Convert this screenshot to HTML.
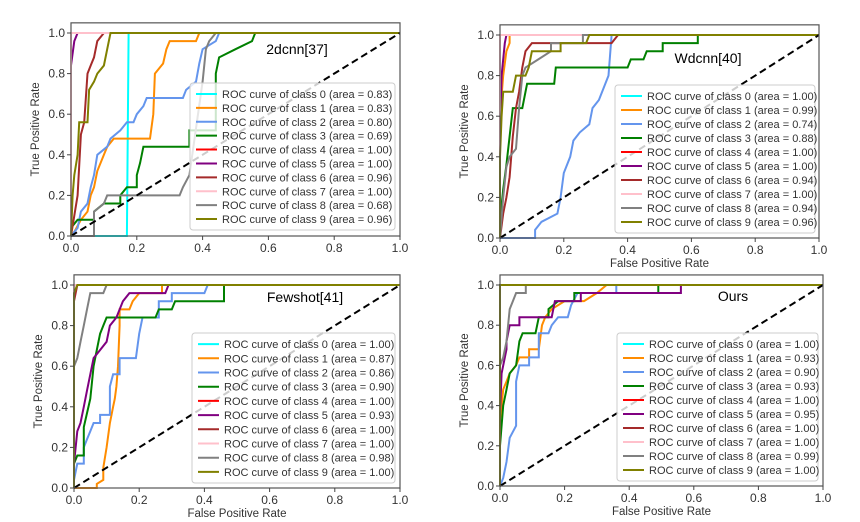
<!DOCTYPE html>
<html><head><meta charset="utf-8"><style>
body{margin:0;background:#fff;}
svg{display:block;font-family:"Liberation Sans",sans-serif;}
</style></head><body>
<svg id="chart" width="860" height="522" viewBox="0 0 860 522" xmlns="http://www.w3.org/2000/svg"></svg>
<script>
const classNames = ["0","1","2","3","4","5","6","7","8","9"];
const classColors = ["#00ffff","#ff8c00","#6495ed","#008000","#ff0000","#800080","#a52a2a","#ffc0cb","#808080","#808000"];
const xTicks = [0,0.2,0.4,0.6,0.8,1.0];
const yTicks = [0,0.2,0.4,0.6,0.8,1.0];
const P = [[0,0],[0,1],[1,1]];

const areas2dcnn = ["0.83","0.83","0.80","0.69","1.00","1.00","0.96","1.00","0.68","0.96"];
const curves2dcnn = [
 [[0,0],[0.17,0],[0.175,1],[1,1]],
 [[0,0],[0.01,0.02],[0.03,0.08],[0.05,0.12],[0.06,0.2],[0.07,0.24],[0.08,0.32],[0.1,0.4],[0.11,0.44],[0.13,0.48],[0.24,0.48],[0.25,0.6],[0.255,0.8],[0.28,0.85],[0.29,0.92],[0.3,0.96],[0.38,0.96],[0.39,1],[1,1]],
 [[0,0],[0.02,0.04],[0.03,0.12],[0.05,0.16],[0.06,0.24],[0.07,0.3],[0.08,0.4],[0.11,0.44],[0.12,0.48],[0.15,0.52],[0.17,0.56],[0.19,0.56],[0.2,0.6],[0.22,0.64],[0.23,0.68],[0.34,0.68],[0.35,0.72],[0.38,0.76],[0.39,0.85],[0.4,0.92],[0.44,0.96],[0.45,1],[1,1]],
 [[0,0],[0,0.04],[0.02,0.08],[0.07,0.08],[0.07,0.12],[0.1,0.16],[0.15,0.16],[0.15,0.2],[0.17,0.24],[0.2,0.24],[0.2,0.3],[0.21,0.36],[0.22,0.44],[0.36,0.44],[0.36,0.52],[0.44,0.52],[0.44,0.8],[0.45,0.88],[0.5,0.92],[0.55,0.96],[0.56,1],[1,1]],
 P,
 [[0,0],[0,0.84],[0.01,0.96],[0.02,1],[1,1]],
 [[0,0],[0.01,0.1],[0.02,0.2],[0.03,0.5],[0.04,0.56],[0.05,0.8],[0.06,0.84],[0.07,0.88],[0.08,0.96],[0.1,1],[1,1]],
 P,
 [[0,0],[0.07,0],[0.07,0.12],[0.1,0.16],[0.11,0.2],[0.33,0.2],[0.34,0.24],[0.36,0.3],[0.4,0.76],[0.41,0.92],[0.42,0.96],[0.44,1],[1,1]],
 [[0,0],[0.005,0.2],[0.01,0.3],[0.02,0.4],[0.025,0.56],[0.05,0.56],[0.055,0.72],[0.07,0.76],[0.08,0.8],[0.1,0.84],[0.11,0.92],[0.12,1],[1,1]]
];

const areasWdcnn = ["1.00","0.99","0.74","0.88","1.00","1.00","0.94","1.00","0.94","0.96"];
const curvesWdcnn = [
 P,
 [[0,0],[0,0.6],[0.01,0.8],[0.02,0.92],[0.03,0.96],[0.03,1],[1,1]],
 [[0,0],[0.11,0],[0.11,0.04],[0.13,0.08],[0.18,0.12],[0.19,0.2],[0.2,0.32],[0.22,0.4],[0.23,0.48],[0.25,0.52],[0.28,0.56],[0.29,0.64],[0.31,0.68],[0.33,0.76],[0.34,0.8],[0.35,1],[1,1]],
 [[0,0],[0.005,0.16],[0.01,0.24],[0.02,0.36],[0.03,0.5],[0.04,0.64],[0.07,0.64],[0.08,0.72],[0.085,0.76],[0.17,0.76],[0.175,0.84],[0.4,0.84],[0.41,0.88],[0.45,0.88],[0.46,0.92],[0.51,0.92],[0.51,0.96],[0.62,0.96],[0.62,1],[1,1]],
 P,
 [[0,0],[0,0.5],[0.005,0.8],[0.01,0.88],[0.015,0.96],[0.02,1],[1,1]],
 [[0,0],[0.01,0.12],[0.02,0.2],[0.03,0.3],[0.04,0.5],[0.05,0.64],[0.06,0.72],[0.07,0.84],[0.08,0.92],[0.1,0.96],[0.35,0.96],[0.37,1],[1,1]],
 P,
 [[0,0],[0.005,0.1],[0.01,0.2],[0.02,0.35],[0.03,0.4],[0.05,0.44],[0.06,0.64],[0.07,0.8],[0.08,0.84],[0.12,0.88],[0.16,0.92],[0.16,0.96],[0.26,0.96],[0.26,1],[1,1]],
 [[0,0],[0,0.4],[0.005,0.6],[0.01,0.72],[0.04,0.72],[0.05,0.8],[0.08,0.8],[0.09,0.84],[0.1,0.92],[0.19,0.92],[0.19,0.96],[0.27,0.96],[0.28,1],[1,1]]
];

const areasFewshot = ["1.00","0.87","0.86","0.90","1.00","0.93","1.00","1.00","0.98","1.00"];
const curvesFewshot = [
 P,
 [[0,0],[0.07,0],[0.07,0.02],[0.09,0.04],[0.09,0.1],[0.1,0.2],[0.11,0.32],[0.12,0.4],[0.125,0.44],[0.13,0.5],[0.135,0.6],[0.14,0.8],[0.14,0.88],[0.17,0.88],[0.18,0.92],[0.2,0.96],[0.27,0.96],[0.27,1],[1,1]],
 [[0,0],[0,0.04],[0.01,0.12],[0.03,0.12],[0.03,0.2],[0.04,0.24],[0.05,0.28],[0.06,0.32],[0.08,0.32],[0.08,0.36],[0.11,0.36],[0.11,0.5],[0.12,0.56],[0.14,0.56],[0.14,0.64],[0.19,0.64],[0.2,0.76],[0.21,0.84],[0.26,0.84],[0.26,0.92],[0.3,0.92],[0.3,0.96],[0.4,0.96],[0.41,1],[1,1]],
 [[0,0],[0,0.12],[0.01,0.16],[0.03,0.16],[0.03,0.3],[0.05,0.44],[0.06,0.6],[0.07,0.68],[0.08,0.76],[0.09,0.8],[0.1,0.84],[0.25,0.84],[0.26,0.88],[0.3,0.88],[0.31,0.92],[0.46,0.92],[0.46,1],[1,1]],
 P,
 [[0,0],[0,0.12],[0.01,0.28],[0.02,0.32],[0.03,0.4],[0.04,0.48],[0.05,0.56],[0.06,0.64],[0.08,0.68],[0.1,0.72],[0.11,0.8],[0.13,0.84],[0.15,0.92],[0.17,0.96],[0.28,0.96],[0.29,1],[1,1]],
 [[0,0],[0,0.92],[0.01,1],[1,1]],
 P,
 [[0,0],[0,0.6],[0.01,0.64],[0.02,0.72],[0.03,0.8],[0.04,0.88],[0.05,0.96],[0.09,0.96],[0.1,1],[1,1]],
 [[0,0],[0,0.96],[0.01,1],[1,1]]
];

const areasOurs = ["1.00","0.93","0.90","0.93","1.00","0.95","1.00","1.00","0.99","1.00"];
const curvesOurs = [
 P,
 [[0,0],[0,0.32],[0.01,0.48],[0.02,0.52],[0.03,0.56],[0.05,0.6],[0.06,0.64],[0.09,0.64],[0.09,0.68],[0.12,0.68],[0.13,0.8],[0.14,0.84],[0.16,0.88],[0.2,0.92],[0.26,0.92],[0.3,0.96],[0.33,1],[1,1]],
 [[0,0],[0.01,0.04],[0.02,0.12],[0.03,0.24],[0.05,0.3],[0.05,0.52],[0.06,0.6],[0.09,0.6],[0.09,0.64],[0.12,0.64],[0.12,0.76],[0.15,0.76],[0.16,0.8],[0.18,0.84],[0.21,0.84],[0.22,0.9],[0.24,0.96],[0.36,0.96],[0.36,1],[1,1]],
 [[0,0],[0,0.2],[0.01,0.4],[0.02,0.48],[0.03,0.56],[0.05,0.6],[0.06,0.72],[0.07,0.76],[0.11,0.76],[0.12,0.84],[0.15,0.84],[0.15,0.88],[0.18,0.92],[0.23,0.92],[0.23,0.96],[0.49,0.96],[0.49,1],[1,1]],
 P,
 [[0,0],[0,0.36],[0.005,0.56],[0.02,0.68],[0.02,0.72],[0.03,0.8],[0.06,0.8],[0.06,0.84],[0.16,0.84],[0.17,0.92],[0.25,0.92],[0.25,0.96],[0.56,0.96],[0.56,1],[1,1]],
 P,
 P,
 [[0,0],[0,0.6],[0.01,0.64],[0.02,0.72],[0.03,0.88],[0.04,0.92],[0.05,0.96],[0.08,0.96],[0.08,1],[1,1]],
 P
];

const panels = [
 {name:"2dcnn",title:"2dcnn[37]",tx:297,ty:54,x0:71,x1:400,y0:236,y1:33,lg:[190,83,205,147],xl:false,curves:curves2dcnn,areas:areas2dcnn},
 {name:"wdcnn",title:"Wdcnn[40]",tx:708,ty:63,x0:500,x1:819,y0:238,y1:35,lg:[615,85,200,148],xl:true,curves:curvesWdcnn,areas:areasWdcnn},
 {name:"fewshot",title:"Fewshot[41]",tx:305,ty:302,x0:74,x1:400,y0:488,y1:285,lg:[192,333,203,150],xl:true,curves:curvesFewshot,areas:areasFewshot},
 {name:"ours",title:"Ours",tx:733,ty:301,x0:500,x1:823,y0:486,y1:285,lg:[617,333,201,148],xl:true,curves:curvesOurs,areas:areasOurs}
];

const NS="http://www.w3.org/2000/svg";
const svg=document.getElementById('chart');
function mk(tag,attrs,parent){const e=document.createElementNS(NS,tag);for(const k in attrs)e.setAttribute(k,attrs[k]);(parent||svg).appendChild(e);return e;}

panels.forEach(p=>{
  const g=mk('g',{});
  
  
  const sx=v=>p.x0+v*(p.x1-p.x0);
  const sy=v=>p.y0-v*(p.y0-p.y1);
  const top=sy(1.05);
  p.curves.forEach((c,i)=>{
    const d=c.map((pt,j)=>(j?'L':'M')+sx(pt[0]).toFixed(1)+','+sy(pt[1]).toFixed(1)).join('');
    const path=mk('path',{d:d,fill:'none',stroke:classColors[i],'stroke-width':2},g);
    
    
  });
  const diag=mk('line',{x1:sx(0),y1:sy(0),x2:sx(1),y2:sy(1),stroke:'#000','stroke-width':2,'stroke-dasharray':'7,4'},g);
  
  
  const frame=mk('rect',{x:p.x0,y:top,width:p.x1-p.x0,height:p.y0-top,fill:'none',stroke:'#555','stroke-width':1.2},g);
  
  
  xTicks.forEach(t=>{
    mk('line',{x1:sx(t),y1:p.y0,x2:sx(t),y2:p.y0+4,stroke:'#444'},g);
    const tl=mk('text',{x:sx(t),y:p.y0+16,'font-size':12,fill:'#333','text-anchor':'middle'},g);
    tl.textContent=t.toFixed(1);
    
    
  });
  yTicks.forEach(t=>{
    mk('line',{x1:p.x0-4,y1:sy(t),x2:p.x0,y2:sy(t),stroke:'#444'},g);
    const tl=mk('text',{x:p.x0-6,y:sy(t)+4,'font-size':12,fill:'#333','text-anchor':'end'},g);
    tl.textContent=t.toFixed(1);
    
    
  });
  const yl=mk('text',{x:0,y:0,'font-size':11.5,fill:'#333','text-anchor':'middle',transform:`translate(${p.x0-32},${(p.y0+top)/2}) rotate(-90)`},g);
  yl.textContent='True Positive Rate';
  
  
  if(p.xl){
    const xl=mk('text',{x:(p.x0+p.x1)/2,y:p.y0+29,'font-size':11.5,fill:'#333','text-anchor':'middle'},g);
    xl.textContent='False Positive Rate';
    
    
  }
  const tt=mk('text',{x:p.tx,y:p.ty,'font-size':14,fill:'#000','text-anchor':'middle'},g);
  tt.textContent=p.title;
  
  
  const [lx,ly,lw,lh]=p.lg;
  const lg=mk('g',{},g);
  
  
  mk('rect',{x:lx,y:ly,width:lw,height:lh,rx:3,fill:'#fff','fill-opacity':0.8,stroke:'#ccc'},lg);
  const step=(lh-8)/10;
  classNames.forEach((n,i)=>{
    const cy=ly+4+step*(i+0.5);
    const e=mk('g',{},lg);
    
    
    mk('line',{x1:lx+6,y1:cy,x2:lx+27,y2:cy,stroke:classColors[i],'stroke-width':2},e);
    const t=mk('text',{x:lx+32,y:cy+4,'font-size':11,fill:'#333'},e);
    t.textContent='ROC curve of class '+n+' (area = '+p.areas[i]+')';
  });
});
</script>
</body></html>
